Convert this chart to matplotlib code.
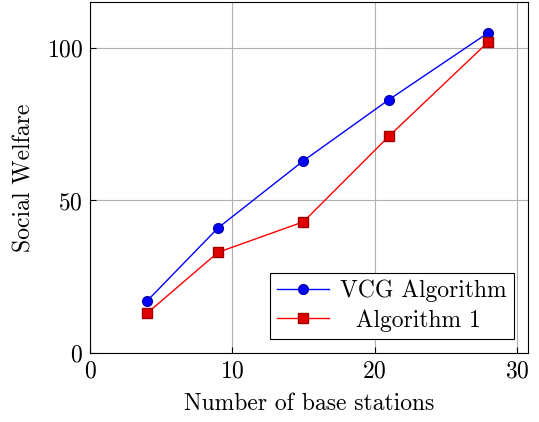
import matplotlib
matplotlib.use('Agg')
import matplotlib.pyplot as plt

plt.rcParams['font.family'] = ['cmr10', 'DejaVu Serif']
plt.rcParams['axes.formatter.use_mathtext'] = True
plt.rcParams['mathtext.fontset'] = 'cm'

stations = [4, 9, 15, 21, 28]
vcg = [17, 41, 63, 83, 105]
alg1 = [13, 33, 43, 71, 102]

fig = plt.figure(figsize=(5.39, 4.22), dpi=100)
ax = fig.add_axes([0.167, 0.1635, 0.813, 0.8315])

ax.plot(stations, vcg, color='blue', marker='o', markersize=7, lw=1,
        markeredgecolor='#0000b0', label='VCG Algorithm')
ax.plot(stations, alg1, color='red', marker='s', markersize=7, lw=1,
        markerfacecolor='#e00000', markeredgecolor='#a00000', label='  Algorithm 1')

ax.set_xlim(0, 30.8)
ax.set_ylim(0, 115)
ax.set_xticks([0, 10, 20, 30])
ax.set_yticks([0, 50, 100])
ax.grid(True, color='#b0b0b0', lw=0.8)
ax.tick_params(labelsize=17, direction='in', length=4, pad=5)
ax.set_xlabel('Number of base stations', fontsize=17, labelpad=8)
ax.set_ylabel('Social Welfare', fontsize=17, labelpad=8)
leg = ax.legend(loc='lower right', fontsize=17, fancybox=False, framealpha=1,
                edgecolor='black', borderaxespad=0.6, handlelength=2.2,
                borderpad=0.3, labelspacing=0.3, handletextpad=0.5)
leg.get_frame().set_linewidth(0.8)

plt.savefig('out.png', dpi=100)
